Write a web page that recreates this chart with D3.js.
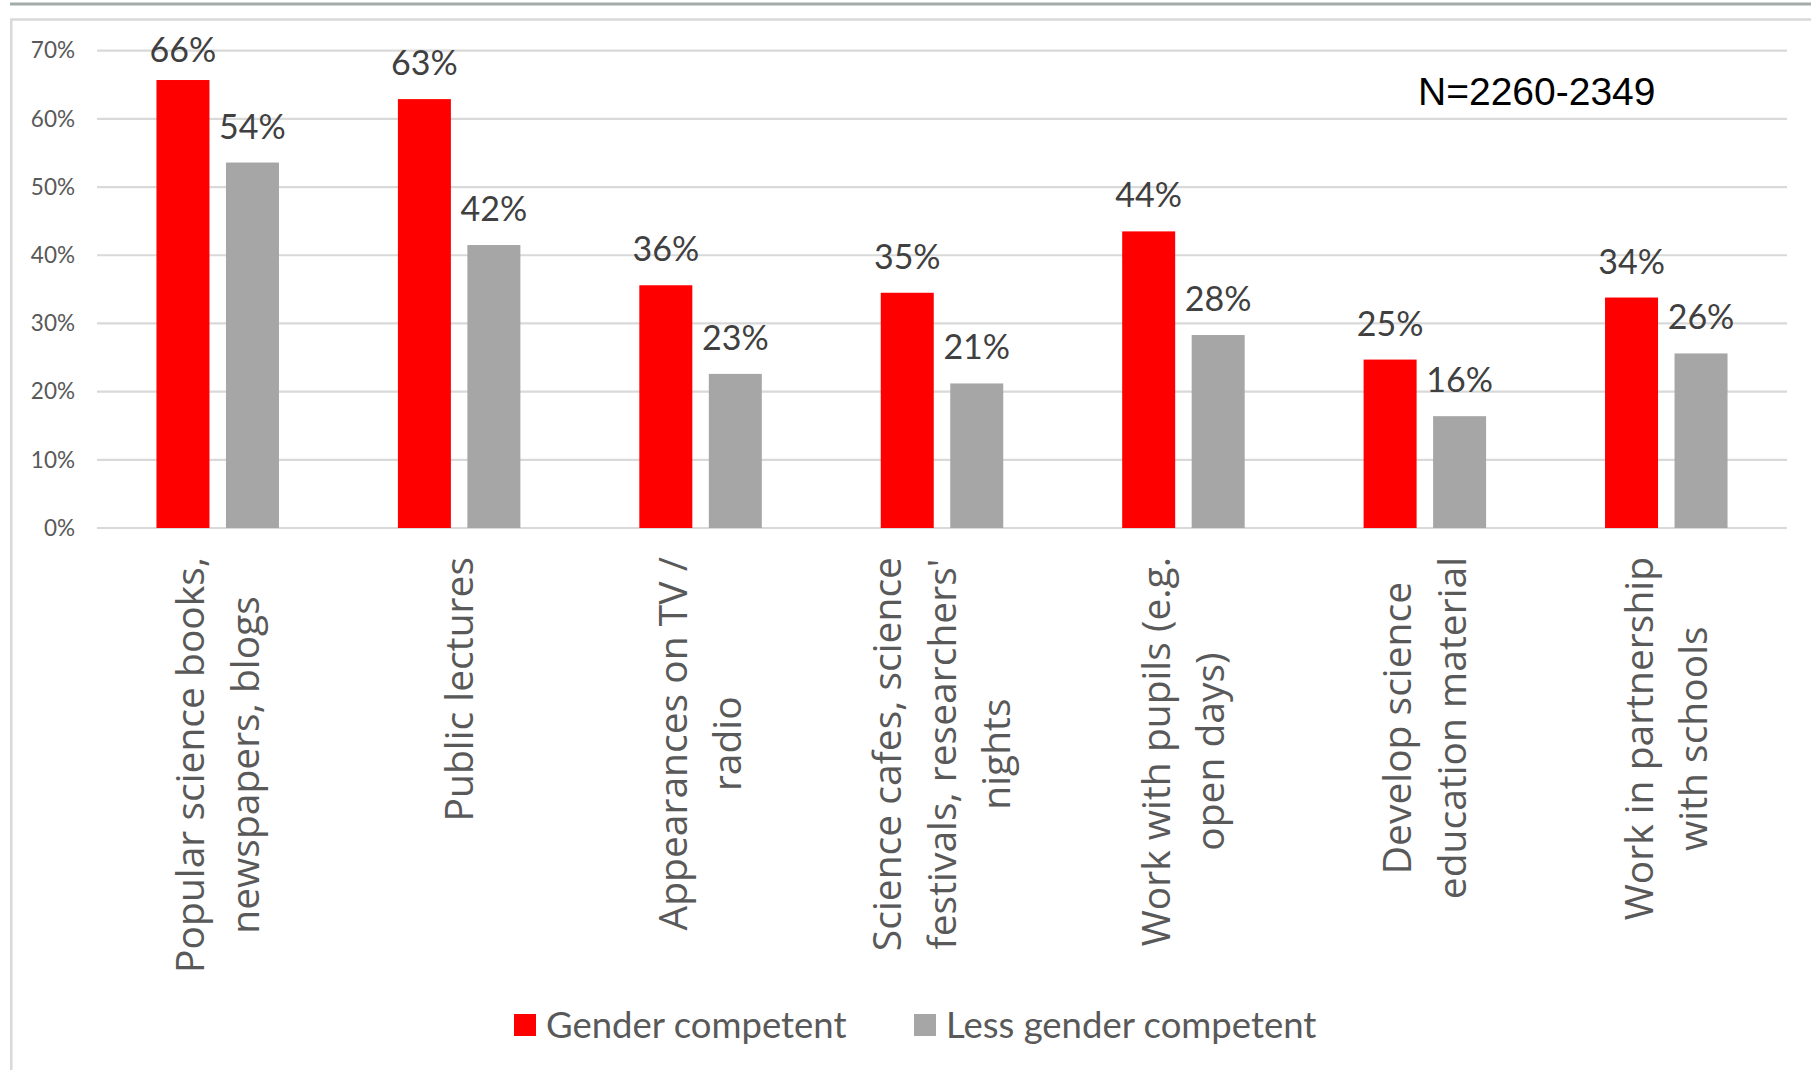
<!DOCTYPE html>
<html>
<head>
<meta charset="utf-8">
<script src="https://cdn.jsdelivr.net/npm/d3@7"></script>
<style>
  body { margin: 0; background: #fff; }
  svg { display: block; }
</style>
</head>
<body>
<svg id="chart" width="1811" height="1070"></svg>
<script>
// categorias (linhas separadas por "|")
var categories = [
  "Popular science books,|newspapers, blogs",
  "Public lectures",
  "Appearances on TV /|radio",
  "Science cafes, science|festivals, researchers'|nights",
  "Work with pupils (e.g.|open days)",
  "Develop science|education material",
  "Work in partnership|with schools"
];
var series = ["Gender competent", "Less gender competent"];
var genderCompetent = [0.657, 0.629, 0.356, 0.345, 0.435, 0.247, 0.338];
var lessCompetent = [0.536, 0.415, 0.226, 0.212, 0.283, 0.164, 0.256];
var yTicks = [0, 0.1, 0.2, 0.3, 0.4, 0.5, 0.6, 0.7];
var colors = ["#ff0000", "#a6a6a6"];
var note = "N=2260-2349";

var svg = d3.select("#chart");
var W = 1811, H = 1070;
var plotLeft = 97, plotRight = 1787, plotTop = 50.7, plotBottom = 528;

// moldura e linha superior
svg.append("line").attr("x1", 10).attr("x2", W).attr("y1", 4).attr("y2", 4)
  .attr("stroke", "#a3aca8").attr("stroke-width", 2.8);
svg.append("path").attr("d", "M" + W + ",19.5H11.3V" + H)
  .attr("fill", "none").attr("stroke", "#d9d9d9").attr("stroke-width", 2.5);

var x0 = d3.scaleBand().domain(d3.range(categories.length)).range([plotLeft, plotRight]);
// duas barras de 53px com 16.5px entre elas
var x1 = d3.scaleBand().domain(series).range([0, 122.5]).paddingInner(0.2374);
var y = d3.scaleLinear().domain([0, 0.7]).range([plotBottom, plotTop]);

// grade
svg.append("g").selectAll("line").data(yTicks).enter().append("line")
  .attr("x1", plotLeft).attr("x2", plotRight)
  .attr("y1", function (d) { return y(d); }).attr("y2", function (d) { return y(d); })
  .attr("stroke", "#d9d9d9").attr("stroke-width", 2.2);

// eixo y
var yAxis = d3.axisLeft(y).tickValues(yTicks).tickFormat(d3.format(".0%")).tickSize(0).tickPadding(0);
var gy = svg.append("g").attr("transform", "translate(75,0)").call(yAxis);
gy.select(".domain").remove();
gy.selectAll("text").attr("font-family", "Lato").attr("font-size", 22.5).attr("fill", "#595959");

var rows = categories.map(function (c, i) {
  return { i: i, values: [genderCompetent[i], lessCompetent[i]] };
});
var groups = svg.append("g").selectAll("g").data(rows).enter().append("g")
  .attr("transform", function (d) { return "translate(" + (x0(d.i) + (x0.bandwidth() - 122.5) / 2) + ",0)"; });

groups.selectAll("rect").data(function (d) { return d.values; }).enter().append("rect")
  .attr("x", function (d, j) { return x1(series[j]); })
  .attr("width", x1.bandwidth())
  .attr("y", function (d) { return y(d); })
  .attr("height", function (d) { return plotBottom - y(d); })
  .attr("fill", function (d, j) { return colors[j]; });

// rótulos de dados
groups.selectAll("text").data(function (d) { return d.values; }).enter().append("text")
  .attr("x", function (d, j) { return x1(series[j]) + x1.bandwidth() / 2; })
  .attr("y", function (d) { return Math.max(y(d) - 24, 61.5); })
  .attr("text-anchor", "middle")
  .attr("font-family", "Lato").attr("font-size", 34).attr("fill", "#404040")
  .text(function (d) { return Math.round(d * 100) + "%"; });

// rótulos das categorias (girados, linhas centralizadas)
var labelTop = 557, lh = 54.5;
categories.forEach(function (c, i) {
  var lines = c.split("|");
  var cx = x0(i) + x0.bandwidth() / 2;
  var g = svg.append("g");
  var texts = lines.map(function (l) {
    return g.append("text")
      .attr("font-family", "Open Sans").attr("font-size", 39).attr("fill", "#595959")
      .attr("text-anchor", "middle").attr("dy", "0.35em")
      .text(l);
  });
  var maxLen = d3.max(texts, function (t) { return t.node().getComputedTextLength(); });
  var cy = labelTop + maxLen / 2;
  texts.forEach(function (t, k) {
    var off = (k - (lines.length - 1) / 2) * lh;
    t.attr("transform", "translate(" + (cx + off) + "," + cy + ") rotate(-90)");
  });
});

// anotação N
svg.append("text").attr("x", 1418).attr("y", 105)
  .attr("font-family", "Liberation Sans").attr("font-size", 39).attr("fill", "#000")
  .text(note);

// legenda
var legendX = [514, 914];
var leg = svg.append("g").selectAll("g").data(series).enter().append("g")
  .attr("transform", function (d, j) { return "translate(" + legendX[j] + ",1014)"; });
leg.append("rect").attr("width", 22).attr("height", 22)
  .attr("fill", function (d, j) { return colors[j]; });
leg.append("text").attr("x", 32).attr("y", 11).attr("dy", "0.36em")
  .attr("font-family", "Lato").attr("font-size", 36.5).attr("fill", "#595959")
  .text(function (d) { return d; });
</script>
</body>
</html>
